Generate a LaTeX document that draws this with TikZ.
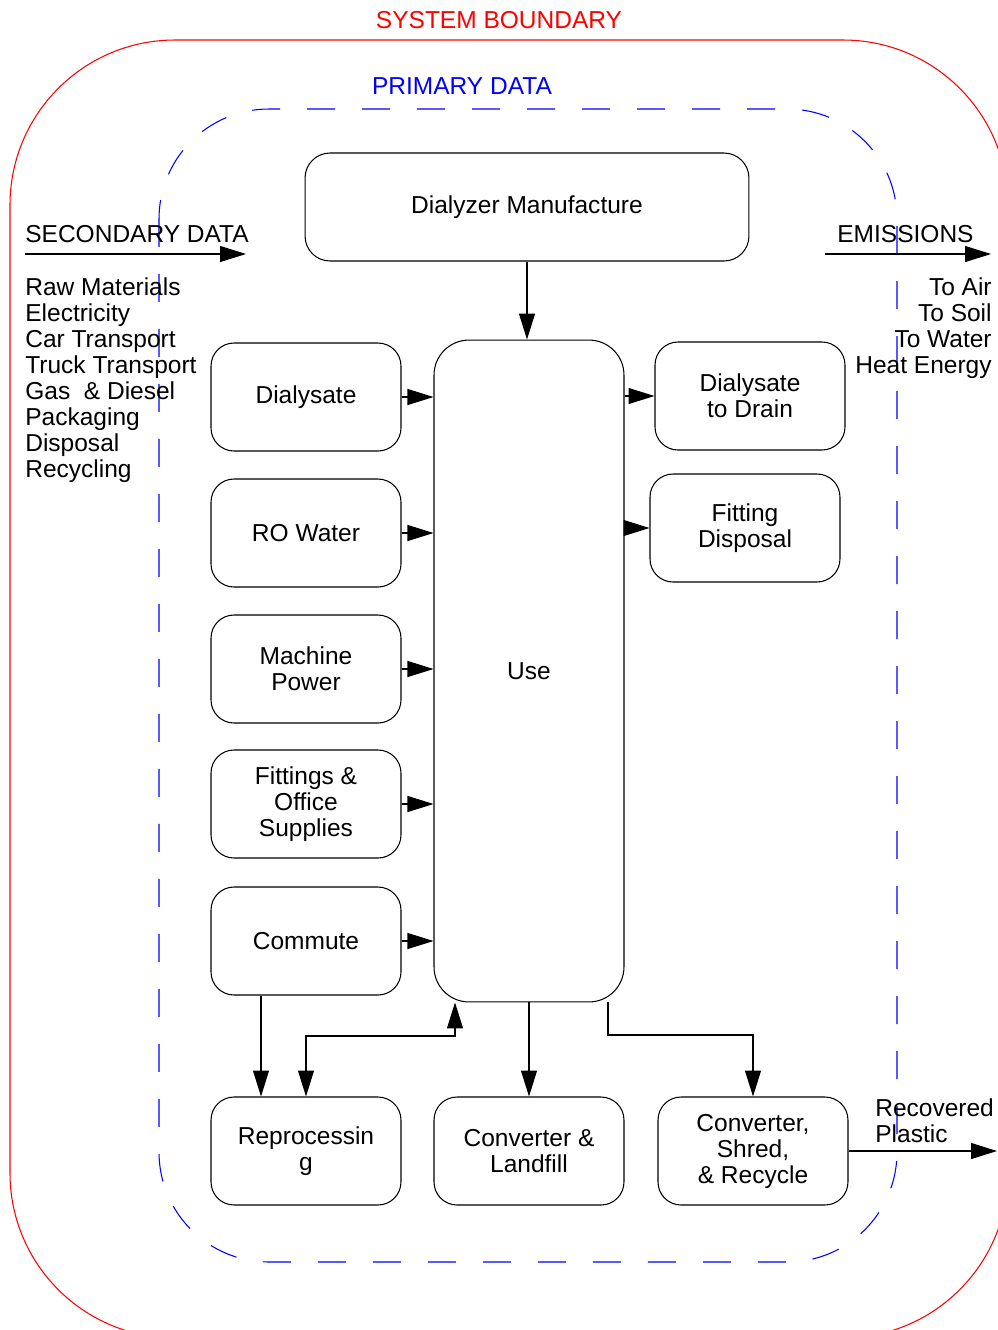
\documentclass[tikz,border=0pt]{standalone}
\usepackage{fontspec}
\setmainfont{Liberation Sans}
\usetikzlibrary{arrows.meta}
\tikzset{
  txt/.style={font=\fontsize{13.95}{14.8}\selectfont, inner sep=0pt},
  procbox/.style={txt, draw, line width=0.6pt, rounded corners=0.46cm, align=center,
    minimum width=3.8cm, minimum height=2.16cm},
  arr/.style={line width=0.6pt, -{Triangle[length=0.52cm,width=0.32cm]}},
  arrboth/.style={line width=0.6pt, {Triangle[length=0.52cm,width=0.32cm]}-{Triangle[length=0.52cm,width=0.32cm]}},
  bound/.style={red, line width=0.6pt, rounded corners=3.3cm},
  prim/.style={blue, line width=0.6pt, rounded corners=2.2cm, dash pattern=on 0.56cm off 0.54cm}
}
\begin{document}
\begin{tikzpicture}[x=0.02cm, y=-0.02cm]
\useasboundingbox (0,0) rectangle (998,1330);
\clip (0,0) rectangle (998,1330);
% boundaries
\draw[bound] (10,40) rectangle (1008,1338);
\draw[prim] (159,109) rectangle (897,1262);
\node[txt, red, anchor=base] (sysb) at (499,28) {SYSTEM BOUNDARY};
\node[txt, blue, anchor=base] (primd) at (462,94) {PRIMARY DATA};
% main boxes
\node[procbox, rounded corners=0.5cm, minimum width=8.88cm] (dm) at (527,207) {Dialyzer Manufacture};
\node[procbox, rounded corners=0.7cm, minimum height=13.24cm] (use) at (529,671) {Use};
\node[procbox] (dial) at (306,397) {Dialysate};
\node[procbox] (ro) at (306,533) {RO Water};
\node[procbox] (mp) at (306,669) {Machine\\Power};
\node[procbox] (fos) at (306,804) {Fittings \&\\Office\\Supplies};
\node[procbox] (com) at (306,941) {Commute};
\node[procbox] (drain) at (750,396) {Dialysate\\to Drain};
\node[procbox] (fitd) at (745,528) {Fitting\\Disposal};
\node[procbox] (repro) at (306,1151) {Reprocessin\\g};
\node[procbox] (land) at (529,1151) {Converter \&\\Landfill};
\node[procbox] (recyc) at (753,1151) {Converter,\\Shred,\\\& Recycle};
% side texts
\node[txt, anchor=base west] (sdl) at (25,242) {SECONDARY DATA};
\node[txt, anchor=north west, align=left] (sdlist) at (25,277)
  {Raw Materials\\Electricity\\Car Transport\\Truck Transport\\Gas\ \ \& Diesel\\Packaging\\Disposal\\Recycling};
\node[txt, anchor=base west] (eml) at (837,242) {EMISSIONS};
\node[txt, anchor=north east, align=right] (emlist) at (992,277)
  {To Air\\To Soil\\To Water\\Heat Energy};
\node[txt, anchor=north west, align=left] (recp) at (875,1098) {Recovered\\Plastic};
% free ends
\coordinate (sd1) at (25,254);
\coordinate (sd2) at (246,254);
\coordinate (em1) at (825,254);
\coordinate (em2) at (991,254);
\coordinate (rp) at (997,1151);
\coordinate (j1) at (455,1036);
\coordinate (j2) at (608,1035);
% connectors
\draw[arr] (sd1) -- (sd2);
\draw[arr] (em1) -- (em2);
\draw[arr] (dm.south) -- (dm.south |- use.north);
\foreach \b in {dial,ro,mp,fos,com}
  \draw[arr] (\b.east) -- (\b.east -| use.west);
\draw[arr] (use.east |- drain.west) -- (drain.west);
\draw[arr] (use.east |- fitd.west) -- (fitd.west);
\draw[arr] ([xshift=-0.9cm]com.south) -- ([xshift=-0.9cm]repro.north);
\draw[arrboth] (repro.north) |- (j1) -- (j1 |- use.south);
\draw[arr] (use.south) -- (land.north);
\draw[arr] (j2 |- use.south) -- (j2) -| (recyc.north);
\draw[arr] (recyc.east) -- (rp);
\end{tikzpicture}
\end{document}
